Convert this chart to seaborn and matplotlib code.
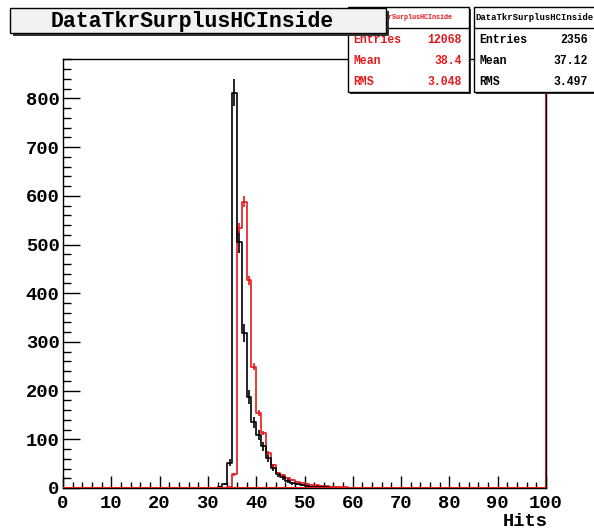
import numpy as np
import pandas as pd
import matplotlib
matplotlib.use("Agg")
import matplotlib.pyplot as plt
from matplotlib.patches import Rectangle
from matplotlib.lines import Line2D
from matplotlib.ticker import MultipleLocator
import seaborn as sns

# ---- histogram contents (1-hit bins from 0 to 100) ----
first_bin = 30
data_counts = [0, 0, 3, 8, 52, 812, 506, 318, 187, 135, 108, 86, 62, 42,
               28, 22, 14, 10, 8, 6, 4, 3, 3, 2, 2, 1, 1, 0, 0, 0, 0]
ref_counts = [0, 0, 0, 0, 2, 28, 534, 588, 427, 249, 154, 113, 72, 47,
              31, 26, 21, 16, 13, 11, 8, 7, 6, 5, 4, 3, 3, 2, 2, 1, 1]
ref_scale = 2356 / 12068

hist_name = "DataTkrSurplusHCInside"
x_label = "Hits"
stat_labels = ["Entries", "Mean", "RMS"]
ref_stats = ["12068", "38.4", "3.048"]
data_stats = ["2356", "37.12", "3.497"]

edges = list(range(0, 101))
centers = np.arange(100) + 0.5


def full(counts):
    arr = np.zeros(100)
    arr[first_bin:first_bin + len(counts)] = counts
    return arr


black = full(data_counts)
red = full(ref_counts)
black_err = np.sqrt(black)
red_err = np.sqrt(red * ref_scale)

df = pd.DataFrame({"x": np.concatenate([centers, centers]),
                   "w": np.concatenate([black, red]),
                   "sample": ["data"] * 100 + ["ref"] * 100})

sns.set_theme(style="white")
plt.rcParams["font.family"] = ["Liberation Mono", "DejaVu Sans Mono"]
plt.rcParams["font.weight"] = "bold"

W, H = 594, 531
fig = plt.figure(figsize=(W / 100, H / 100), dpi=100)
fig.patch.set_facecolor("white")


def fx(x):
    return x / W


def fy(y):
    return 1 - y / H


ax = fig.add_axes([fx(63), fy(488), fx(546) - fx(63), fy(59) - fy(488)])
ax.set_facecolor("white")

for name, col in [("ref", "#e41a1c"), ("data", "black")]:
    sub = df[df["sample"] == name].reset_index(drop=True)
    sns.histplot(x=sub["x"], weights=sub["w"], bins=edges, element="step",
                 fill=False, color=col, linewidth=1.2, ax=ax)

nz = black > 0
ax.errorbar(centers[nz], black[nz], yerr=black_err[nz], fmt="none",
            ecolor="black", elinewidth=1.2)
nz = red > 0
ax.errorbar(centers[nz], red[nz], yerr=red_err[nz], fmt="none",
            ecolor="#e41a1c", elinewidth=1.2)
ax.axvline(100, color="#c0141a", linewidth=2.0, zorder=5)
ax.plot([0, 100], [0, 0], color="#e41a1c", linewidth=1.5, zorder=5)

ax.set_xlim(0, 100)
ax.set_ylim(0, 881)
ax.xaxis.set_major_locator(MultipleLocator(10))
ax.xaxis.set_minor_locator(MultipleLocator(2))
ax.yaxis.set_major_locator(MultipleLocator(100))
ax.yaxis.set_minor_locator(MultipleLocator(20))
ax.tick_params(which="both", direction="in", top=False, right=False,
               bottom=True, left=True, width=1, colors="black",
               labelsize=13.5)
ax.tick_params(axis="x", which="major", length=8.6, pad=5)
ax.tick_params(axis="x", which="minor", length=4.3)
ax.tick_params(axis="y", which="major", length=12, pad=2.5)
ax.tick_params(axis="y", which="minor", length=5.8)
for lab in ax.get_xticklabels() + ax.get_yticklabels():
    lab.set_fontweight("bold")
for s in ax.spines.values():
    s.set_color("black")
    s.set_linewidth(1)
ax.set_ylabel("")
ax.set_xlabel("")
fig.text(fx(548), fy(522), x_label, fontsize=13.5, fontweight="bold",
         ha="right", va="center", color="black")


def box(x0, y0, x1, y1, fill, shadow=3, z=10):
    fig.patches.append(Rectangle((fx(x0 + shadow), fy(y1 + shadow)),
                                 fx(x1 - x0), fy(y0) - fy(y1),
                                 transform=fig.transFigure, facecolor="#333333",
                                 edgecolor="none", zorder=z))
    fig.patches.append(Rectangle((fx(x0), fy(y1)), fx(x1 - x0), fy(y0) - fy(y1),
                                 transform=fig.transFigure, facecolor=fill,
                                 edgecolor="black", linewidth=1, zorder=z + 1))


def stats_box(x0, x1, color, values, head_size, z):
    box(x0, 7, x1, 92, "white", shadow=2, z=z)
    fig.lines.append(Line2D([fx(x0), fx(x1)], [fy(28), fy(28)],
                            transform=fig.transFigure, color="black",
                            linewidth=1, zorder=z + 2))
    fig.text(fx((x0 + x1) / 2), fy(17.5), hist_name, color=color,
             fontsize=head_size, ha="center", va="center", zorder=z + 2)
    for lab, val, yy in zip(stat_labels, values, [40, 61, 82]):
        fig.text(fx(x0 + 5), fy(yy), lab, color=color, fontsize=8.3,
                 ha="left", va="center", fontweight="bold", zorder=z + 2)
        fig.text(fx(x1 - 7), fy(yy), val, color=color, fontsize=8.3,
                 ha="right", va="center", fontweight="bold", zorder=z + 2)


stats_box(348, 469, "#e41a1c", ref_stats, 4.9, 10)
stats_box(474, 595, "black", data_stats, 6.4, 20)

box(10, 8, 386, 33, "#f2f2f2", shadow=3, z=30)
fig.text(fx(192), fy(21), hist_name, fontsize=15.5, fontweight="bold",
         ha="center", va="center", color="black", zorder=32)

fig.savefig("out.png", dpi=100)
